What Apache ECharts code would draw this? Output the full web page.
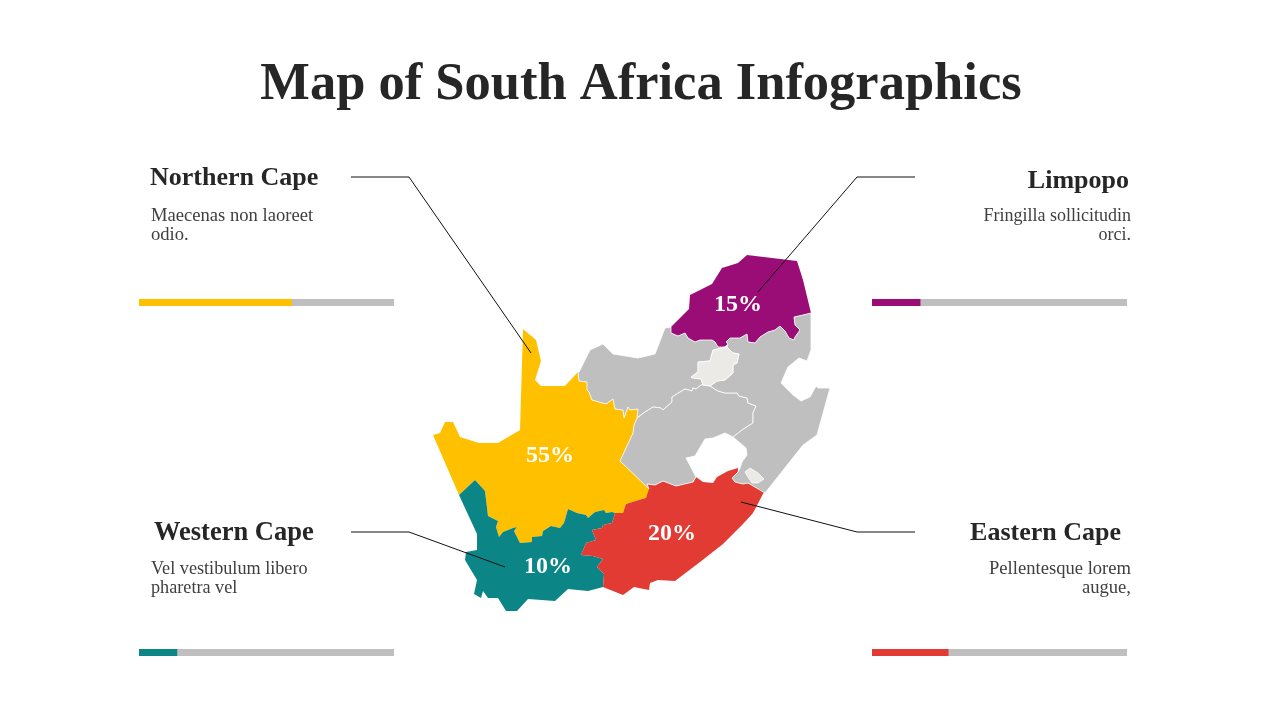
<!DOCTYPE html>
<html>
<head>
    <meta charset="utf-8">
    <title>Map of South Africa Infographics</title>
    <script src="https://cdn.jsdelivr.net/npm/echarts@6/dist/echarts.min.js"></script>
</head>
<body style="margin:0;background:#fff;">
    <div id="main" style="width:1280px;height:720px;"></div>
    <script type="text/javascript">
        // provinces that carry a value
        var provinces = ['Northern Cape', 'Limpopo', 'Western Cape', 'Eastern Cape'];
        var mapPercents = [55, 15, 10, 20];
        var barValues = [60, 19, 15, 30];
        var descriptions = [
            'Maecenas non laoreet\nodio.',
            'Fringilla sollicitudin\norci.',
            'Vel vestibulum libero\npharetra vel',
            'Pellentesque lorem\naugue,'
        ];
        var colors = ['#FFC000', '#9B0D76', '#0B8585', '#E23B33'];

        // outlines, in slide pixels
        var northernCape = [[523,329],[536,340],[541,361],[535,380],[541,386],[565,386],[578,372],[579,381],[587,382],[587,390],[589,392],[592,400],[606,404],[613,399],[615,409],[623,410],[624,418],[628,407],[630,410],[638,409],[637,418],[634,425],[633,433],[620,461],[650,489],[646,498],[642,499],[626,504],[623,513],[615,513],[612,512],[606,513],[604,510],[595,512],[588,518],[586,515],[577,513],[568,509],[564,523],[560,528],[551,526],[543,531],[542,536],[532,537],[532,542],[520,543],[514,531],[517,527],[513,528],[503,532],[499,537],[496,527],[498,521],[488,516],[485,491],[475,480],[459,495],[433,435],[440,433],[445,422],[453,422],[460,437],[479,443],[498,443],[520,430]];
        var westernCape = [[459,495],[475,480],[485,491],[488,516],[498,521],[496,527],[499,537],[503,532],[513,528],[517,527],[514,531],[520,543],[532,542],[532,537],[542,536],[543,531],[551,526],[560,528],[564,523],[568,509],[577,513],[586,515],[588,518],[595,512],[604,510],[606,513],[612,512],[615,513],[614,517],[612,523],[603,525],[602,528],[592,530],[596,540],[586,543],[581,555],[593,556],[603,559],[597,567],[604,574],[603,587],[588,591],[568,589],[555,601],[528,599],[517,611],[506,611],[498,598],[488,598],[483,591],[481,598],[474,594],[477,580],[465,560],[466,552],[477,550],[477,534]];
        var easternCape = [[649,489],[647,484],[655,485],[663,481],[676,486],[693,482],[696,477],[703,482],[713,483],[717,477],[728,471],[738,468],[738,472],[732,478],[735,482],[743,484],[748,483],[764,492],[753,513],[742,525],[723,544],[700,562],[675,581],[658,580],[650,583],[649,590],[634,587],[623,595],[603,587],[604,574],[597,567],[603,559],[593,556],[581,555],[586,543],[596,540],[592,530],[602,528],[603,525],[612,523],[614,517],[615,513],[623,513],[626,504],[642,499],[646,498]];
        var limpopo = [[671,327],[689,309],[690,295],[712,284],[722,268],[738,263],[747,255],[797,261],[803,280],[811,313],[803,315],[794,317],[795,325],[800,330],[795,337],[794,340],[789,338],[785,331],[780,326],[775,330],[768,332],[760,337],[755,343],[748,342],[747,334],[740,338],[730,338],[726,342],[728,344],[724,347],[718,347],[715,342],[712,340],[700,340],[695,342],[688,338],[685,333],[678,336],[671,333]];
        var northWest = [[579,372],[590,350],[603,344],[613,354],[638,358],[655,354],[665,328],[671,327],[671,333],[678,336],[685,333],[688,338],[695,342],[700,340],[712,340],[715,342],[718,347],[724,347],[727,347],[713,350],[710,361],[698,362],[698,372],[691,377],[692,378],[701,379],[703,385],[701,385],[696,389],[693,388],[692,391],[685,389],[672,397],[672,402],[663,410],[661,408],[653,407],[645,412],[637,418],[638,409],[630,410],[628,407],[624,418],[623,410],[615,409],[613,399],[606,404],[592,400],[589,392],[587,390],[587,382],[579,381],[578,372]];
        var freeState = [[633,433],[634,425],[637,418],[645,412],[653,407],[661,408],[663,410],[672,402],[672,397],[685,389],[692,391],[693,388],[696,389],[701,385],[703,385],[710,386],[718,391],[725,393],[737,393],[739,396],[747,398],[748,403],[756,406],[753,413],[753,423],[742,430],[733,437],[725,433],[713,438],[705,439],[695,456],[686,458],[696,477],[693,482],[676,486],[663,481],[655,485],[647,484],[649,489],[620,461]];
        var eastCoast = [[811,313],[812,313],[811,350],[807,361],[799,358],[788,367],[781,383],[793,395],[801,401],[810,397],[816,386],[818,388],[830,388],[817,435],[803,445],[765,493],[764,492],[748,483],[743,484],[735,482],[732,478],[738,472],[740,468],[742,462],[747,455],[746,448],[733,437],[742,430],[753,423],[753,413],[756,406],[748,403],[747,398],[739,396],[737,393],[725,393],[718,391],[710,386],[717,381],[725,380],[733,373],[733,365],[737,363],[739,354],[733,353],[727,347],[728,344],[726,342],[730,338],[740,338],[747,334],[748,342],[755,343],[760,337],[768,332],[775,330],[780,326],[785,331],[789,338],[794,340],[795,337],[800,330],[795,325],[794,317],[803,315]];
        var gauteng = [[691,377],[698,372],[698,362],[710,361],[713,350],[727,347],[733,353],[739,354],[737,363],[733,365],[733,373],[725,380],[717,381],[710,386],[703,385],[701,379],[692,378]];
        var southPatch = [[745,472],[750,468],[758,473],[764,479],[758,483],[752,483],[748,477]];

        var labelCenters = [[550,456],[738,305],[548,567],[672,534]];
        var paleRegions = ['Gauteng', 'South Patch'];

        function feature(name, ring, cp) {
            var props = { name: name };
            if (cp) props.cp = cp;
            return {
                type: 'Feature',
                properties: props,
                geometry: { type: 'Polygon', coordinates: [ring.concat([ring[0]])] }
            };
        }

        echarts.registerMap('southAfrica', {
            type: 'FeatureCollection',
            features: [
                feature(provinces[0], northernCape, labelCenters[0]),
                feature(provinces[2], westernCape, labelCenters[2]),
                feature(provinces[3], easternCape, labelCenters[3]),
                feature(provinces[1], limpopo, labelCenters[1]),
                feature('North West', northWest),
                feature('Free State', freeState),
                feature('East Coast', eastCoast),
                feature('Gauteng', gauteng),
                feature('South Patch', southPatch)
            ]
        });

        var myChart = echarts.init(document.getElementById('main'));

        var serif = '"Liberation Serif"';
        var mapData = provinces.map(function (name, i) {
            return {
                name: name,
                value: mapPercents[i],
                itemStyle: { areaColor: colors[i], borderWidth: 0 },
                label: { show: true }
            };
        }).concat(paleRegions.map(function (name) {
            return { name: name, itemStyle: { areaColor: '#ECEAE7' } };
        }));

        // small bars under each block
        var barBoxes = [
            { left: 139, top: 299 },
            { left: 872, top: 299 },
            { left: 139, top: 649 },
            { left: 872, top: 649 }
        ];
        var grids = [], xAxes = [], yAxes = [];
        var series = [{
            type: 'map',
            map: 'southAfrica',
            silent: true,
            selectedMode: false,
            roam: false,
            projection: {
                project: function (p) { return p; },
                unproject: function (p) { return p; }
            },
            boundingCoords: [[0, 0], [1280, 720]],
            layoutCenter: ['50%', '50%'],
            layoutSize: 1280,
            itemStyle: { areaColor: '#BFBFBF', borderColor: '#fff', borderWidth: 0.8 },
            label: {
                show: false,
                formatter: '{c}%',
                color: '#fff',
                fontFamily: serif,
                fontWeight: 'bold',
                fontSize: 24
            },
            emphasis: { disabled: true },
            data: mapData
        }];
        barBoxes.forEach(function (box, i) {
            grids.push({ left: box.left, top: box.top, width: 255, height: 7 });
            xAxes.push({ gridIndex: i, type: 'value', min: 0, max: 100, show: false });
            yAxes.push({ gridIndex: i, type: 'category', data: [provinces[i]], show: false });
            series.push({
                type: 'bar', xAxisIndex: i, yAxisIndex: i, silent: true,
                data: [100], barWidth: '100%', barGap: '-100%',
                itemStyle: { color: '#BFBFBF' }
            });
            series.push({
                type: 'bar', xAxisIndex: i, yAxisIndex: i, silent: true,
                data: [barValues[i]], barWidth: '100%', barGap: '-100%',
                itemStyle: { color: colors[i] }
            });
        });

        function text(str, x, y, size, weight, align, color, lineHeight) {
            return {
                type: 'text', x: x, y: y, z: 20, silent: true,
                style: {
                    text: str, fill: color, textAlign: align, textVerticalAlign: 'middle',
                    font: weight + ' ' + size + 'px ' + serif, lineHeight: lineHeight
                }
            };
        }
        function leader(points) {
            return {
                type: 'polyline', z: 15, silent: true,
                shape: { points: points },
                style: { stroke: '#111', lineWidth: 1, fill: null }
            };
        }

        var option = {
            animation: false,
            backgroundColor: '#fff',
            grid: grids,
            xAxis: xAxes,
            yAxis: yAxes,
            series: series,
            graphic: [
                text('Map of South Africa Infographics', 641, 85, 52.5, 'bold', 'center', '#262626'),
                text(provinces[0], 150, 178, 26, 'bold', 'left', '#262626'),
                text(provinces[1], 1129, 181, 26, 'bold', 'right', '#262626'),
                text(provinces[2], 154, 533, 26.5, 'bold', 'left', '#262626'),
                text(provinces[3], 1121, 533, 26, 'bold', 'right', '#262626'),
                text(descriptions[0], 151, 226, 18.6, 'normal', 'left', '#404040', 19),
                text(descriptions[1], 1131, 226, 18, 'normal', 'right', '#404040', 19),
                text(descriptions[2], 151, 579, 18.2, 'normal', 'left', '#404040', 19),
                text(descriptions[3], 1131, 579, 18.6, 'normal', 'right', '#404040', 19),
                leader([[351, 177], [409, 177], [531, 353]]),
                leader([[915, 177], [857, 177], [758, 292]]),
                leader([[351, 532], [409, 532], [505, 567]]),
                leader([[915, 532], [857, 532], [741, 502]])
            ]
        };
        myChart.setOption(option);
    </script>
</body>
</html>
